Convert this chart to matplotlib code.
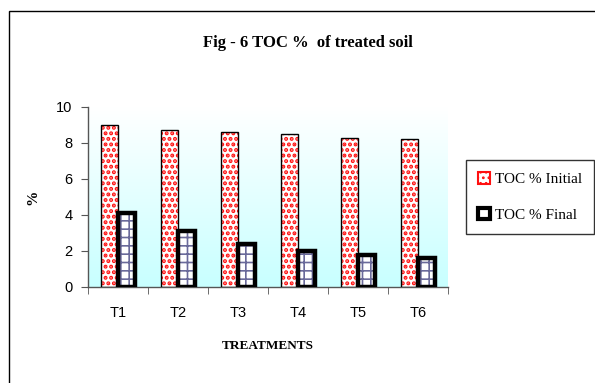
import numpy as np
import matplotlib as mpl
mpl.use('Agg')
import matplotlib.pyplot as plt
from matplotlib.patches import Rectangle, Patch

# TOC % of treated soil, before and after treatment
treatments = ["T1", "T2", "T3", "T4", "T5", "T6"]
toc_initial = [9.0, 8.7, 8.6, 8.5, 8.3, 8.2]
toc_final = [4.1, 3.1, 2.4, 2.0, 1.8, 1.6]
yticks = [0, 2, 4, 6, 8, 10]

plt.rcParams['hatch.linewidth'] = 2.0

fig = plt.figure(figsize=(5.95, 3.83), dpi=100)
fig.patch.set_facecolor('white')

# outer chart frame
fig.add_artist(Rectangle((9 / 595, -0.05), 1.2, 1 - 11 / 383 + 0.05,
                         transform=fig.transFigure, fill=False,
                         edgecolor='black', linewidth=1.0))

ax = fig.add_axes([88 / 595, 1 - 287 / 383, 360 / 595, 180 / 383])

# white-to-cyan gradient behind the bars
grad = np.linspace(1, 0, 256).reshape(-1, 1)
cmap = mpl.colors.LinearSegmentedColormap.from_list('bg', ['#c8ffff', '#ffffff'])
ax.imshow(grad, cmap=cmap, aspect='auto', extent=[0, 1, 0, 1],
          transform=ax.transAxes, zorder=0, origin='upper')

x = np.arange(len(treatments))
w = 0.29

# initial: white with red dots
ax.bar(x - w / 2, toc_initial, w, color='white', edgecolor='#ff1010',
       hatch='...', linewidth=0, zorder=2)
ax.bar(x - w / 2, toc_initial, w, color='none', edgecolor='black',
       linewidth=1.0, zorder=3)

# final: grid pattern with heavy black outline
plt.rcParams['hatch.linewidth'] = 1.2
ax.bar(x + w / 2, toc_final, w, color='white', edgecolor='#6a6a9a',
       hatch='++', linewidth=0, zorder=2)
ax.bar(x + w / 2, toc_final, w, color='none', edgecolor='black',
       linewidth=3.2, zorder=3)

ax.set_xlim(-0.5, len(treatments) - 0.5)
ax.set_ylim(0, 10)
ax.set_yticks(yticks)
ax.set_xticks(x)
ax.set_xticklabels(treatments)
ax.set_xticks(np.arange(len(treatments) + 1) - 0.5, minor=True)
ax.tick_params(axis='x', which='major', length=0, pad=14, labelsize=10.5)
ax.tick_params(axis='x', which='minor', length=5, color='#555555')
ax.tick_params(axis='y', length=5, color='#555555', labelsize=10.5, pad=6)
for lab in ax.get_xticklabels() + ax.get_yticklabels():
    lab.set_fontfamily('Liberation Sans')

for side in ['top', 'right']:
    ax.spines[side].set_visible(False)
for side in ['left', 'bottom']:
    ax.spines[side].set_color('#555555')
    ax.spines[side].set_linewidth(1.0)

ax.set_ylabel('%', fontsize=11, fontweight='bold', labelpad=12,
              family='Liberation Serif')
ax.set_xlabel('TREATMENTS', fontsize=9.5, fontweight='bold', labelpad=14,
              family='Liberation Serif')

fig.text(308 / 595, 1 - 43 / 383, 'Fig - 6 TOC %  of treated soil',
         ha='center', va='center', fontsize=12, fontweight='bold',
         family='Liberation Serif')

handles = [Patch(facecolor='white', edgecolor='#ff1010', hatch='...', linewidth=1.5),
           Patch(facecolor='white', edgecolor='black', linewidth=3)]
leg = fig.legend(handles, ['TOC % Initial', 'TOC % Final'],
                 loc='upper left', bbox_to_anchor=(466 / 595, 1 - 160 / 383),
                 frameon=True, fancybox=False, edgecolor='black',
                 prop={'family': 'Liberation Serif', 'size': 11},
                 handlelength=0.8, handleheight=0.8, handletextpad=0.3,
                 labelspacing=1.4, borderpad=0.8, borderaxespad=0)
leg.get_frame().set_linewidth(1.0)

fig.savefig('out.png', dpi=100)
